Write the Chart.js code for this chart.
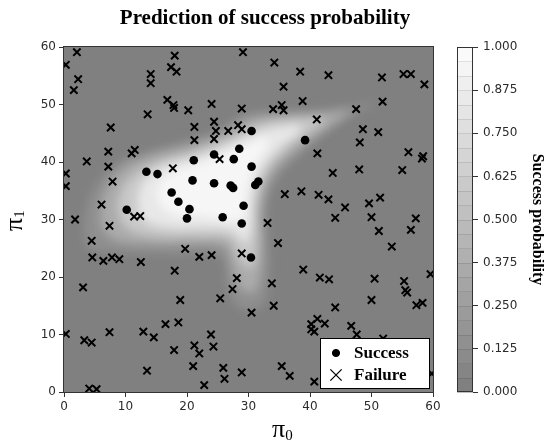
<!DOCTYPE html>
<html>
<head>
<meta charset="utf-8">
<script src="https://cdn.jsdelivr.net/npm/chart.js@4.4.0/dist/chart.umd.min.js"></script>
<style>
  html, body { margin: 0; padding: 0; background: #fff; }
  canvas { display: block; }
</style>
</head>
<body>
<canvas id="chart" width="544" height="441"></canvas>
<script>
// observed successes [pi0, pi1]
const successPoints = [
  [30.5,45.4],[28.5,42.3],[24.4,41.3],[27.6,40.5],[21.1,40.3],[30.5,39.2],
  [13.4,38.3],[15.2,37.9],[20.9,36.8],[24.4,36.3],[27.1,35.9],[27.5,35.5],
  [31.1,36.0],[31.6,36.6],[39.2,43.8],[17.5,34.7],[18.6,33.1],[20.4,31.8],
  [20.0,30.2],[10.2,31.7],[29.2,32.4],[25.8,30.4],[28.9,29.3],[30.4,23.4]
];

// observed failures, split by region of the plot
const failuresUpperLeft = [
  [2.1,59.1],[0.3,56.9],[18.0,58.5],[29.1,59.1],[2.3,54.4],[1.6,52.5],[14.1,55.3],[14.1,53.7],
  [17.4,56.5],[18.3,55.7],[16.8,50.8],[17.8,49.9],[17.9,49.4],[20.2,49.0],[24.0,50.1],[28.9,49.3],
  [13.6,48.3],[7.6,46.0],[21.2,46.1],[24.4,47.0],[21.2,43.8],[24.7,45.4],[24.4,44.0],[26.7,45.4],
  [28.3,46.4],[28.9,45.7],[7.2,41.8],[7.2,39.2],[3.7,40.1],[11.0,41.5],[11.5,42.1],[0.3,38.0],
  [0.3,35.8],[7.9,36.6],[17.7,38.9],[25.3,40.5]
];
const failuresUpperRight = [
  [34.2,57.3],[38.4,55.7],[43.0,55.1],[51.7,54.7],[55.2,55.3],[56.4,55.3],[58.6,53.5],[35.7,53.1],
  [34.0,49.2],[35.4,49.9],[35.7,49.0],[38.8,50.6],[47.5,49.2],[51.8,50.5],[41.1,47.4],[48.6,45.7],
  [51.1,45.2],[48.1,43.4],[41.2,41.5],[56.0,41.7],[58.2,40.6],[58.4,41.0],[43.7,38.1],[48.0,38.7],
  [55.0,38.6],[38.6,34.9]
];
const failuresMidLeft = [
  [6.1,32.6],[1.8,30.0],[7.4,28.9],[11.4,30.5],[12.4,30.6],[4.5,26.3],[4.6,23.4],[6.4,22.8],
  [7.8,23.4],[9.0,23.1],[12.5,22.6],[19.7,24.9],[22.0,23.5],[24.0,23.8],[28.9,24.1],[18.0,21.1],
  [3.1,18.2],[28.1,19.8],[27.4,17.9],[25.4,16.3],[18.9,16.0],[30.5,13.8],[16.5,11.8],[18.6,12.1]
];
const failuresMidRight = [
  [35.9,34.4],[41.4,34.3],[43.0,33.5],[45.7,32.1],[44.1,30.3],[49.6,32.8],[51.4,33.8],[50.0,30.4],
  [51.2,28.0],[57.2,30.2],[56.4,28.2],[53.3,25.3],[33.1,29.4],[34.8,25.9],[38.9,21.3],[41.6,19.9],
  [43.1,19.6],[33.8,18.9],[50.5,19.7],[55.3,19.3],[55.5,17.7],[55.8,17.3],[59.6,20.5],[34.1,15.0],
  [44.1,14.7],[50.0,16.0],[57.3,15.1],[58.3,15.5],[46.7,11.5]
];
const failuresLowRight = [
  [40.2,11.8],[41.2,12.7],[42.4,11.9],[40.2,10.9],[40.7,10.5],[47.6,10.0],[51.9,9.3],
  [35.4,4.5],[36.7,2.8],[40.7,1.8],[59.8,3.2]
];
const failuresLowLeft = [
  [0.3,10.1],[3.3,9.0],[4.5,8.6],[7.4,10.4],[12.9,10.5],[14.6,9.5],[17.9,7.3],[21.2,8.1],
  [22.0,6.7],[23.9,10.0],[24.3,7.9],[13.5,3.7],[21.0,4.5],[25.9,4.2],[26.1,2.3],[28.9,3.4],
  [22.8,1.2],[4.1,0.6],[5.3,0.5]
];

// probability contours
const contourLevels = [0.12, 0.35, 0.6, 0.85, 0.97];
const contour12 = [
  [51.5,50.3],[46,49.7],[40,49.1],[34,48.9],[29.5,48.4],[25,45.5],[20,43.8],[14,42],[9,40],
  [5.8,37],[3.9,33],[3.3,29],[3.9,25.2],[7,24.4],[12,24.2],[18,23.9],[23,24.3],[25.8,23],
  [26.3,19],[27.8,15.3],[30.5,14.2],[32.6,15.8],[33.4,21],[33.2,27],[33.1,32],[34.7,37],
  [38.7,41.5],[43.7,45.8],[48.5,49]
];
const contour35 = [
  [47,49],[41,48.3],[35,48],[30,47.3],[25.5,44.8],[20,42.7],[14,41],[9.5,38.8],[7,35.5],
  [6,31.5],[6.5,28],[9,26.2],[15,25.7],[21,25.8],[26,25.3],[27.3,22],[28.5,18.3],[30.8,17.3],
  [32,21],[32.2,27],[32.1,32],[33.7,37.5],[37.6,41.8],[42.5,45.8]
];
const contour60 = [
  [43,47.5],[37,47.4],[31.5,46.5],[26.5,44],[21,41.8],[15,40],[11,37.5],[9,34],[9,30.5],
  [11,28],[16,27],[22,27],[27,26.5],[28.6,23],[30.5,21.5],[31.3,26],[31.3,32],[32.8,38],
  [36.5,42.5],[40.5,45.7]
];
const contour85 = [
  [38,46.5],[32.5,45.5],[28,43.5],[22,41],[16.5,39.3],[13.2,37],[12,33.5],[13,30],[17,28.6],
  [23,28.5],[27.5,28],[29.5,26],[30.4,29],[30.5,33],[32,38.5],[35.5,43],[38.5,45.5]
];
const contour97 = [
  [33,44.5],[28.5,42.5],[23,40],[18,38.3],[15.5,36],[15.5,33],[18,30.8],[23,30.5],[27.5,29.8],
  [29.4,30.5],[29.6,34],[30.8,39],[33,42.8]
];
const contourShapes = [contour12, contour35, contour60, contour85, contour97];

// colour bar ticks
const cbTicks = [0, 0.125, 0.25, 0.375, 0.5, 0.625, 0.75, 0.875, 1];
const cbBands = 24;

const grey = v => { const g = Math.round(128 + v * 122); return `rgb(${g},${g},${g})`; };
const toXY = arr => arr.map(([x, y]) => ({x, y}));

const failurePoints = [].concat(failuresUpperLeft, failuresUpperRight, failuresMidLeft,
  failuresMidRight, failuresLowRight, failuresLowLeft);

const contourSets = contourShapes.map((pts, i) => ({
  type: 'line',
  label: 'p' + contourLevels[i],
  data: toXY(pts.concat([pts[0]])),
  fill: 'shape',
  backgroundColor: grey(contourLevels[i]),
  borderColor: 'rgba(0,0,0,0)',
  borderWidth: 1,
  pointRadius: 0,
  tension: 0.4,
  order: 20 - i,
  isContour: true,
  lastContour: i === contourShapes.length - 1
}));

const serif = 'Liberation Serif, Times New Roman, serif';

const decor = {
  id: 'decor',
  beforeDraw(chart) {
    const {ctx, chartArea: a} = chart;
    ctx.save();
    ctx.fillStyle = grey(0);
    ctx.fillRect(a.left, a.top, a.width, a.height);

    // colour bar
    const cb = chart.scales.cb;
    const x1 = cb.left - 16, x2 = cb.left;
    const y0 = cb.getPixelForValue(0), y1 = cb.getPixelForValue(1);
    const h = (y0 - y1) / cbBands;
    for (let k = 0; k < cbBands; k++) {
      ctx.fillStyle = grey(k / (cbBands - 1));
      ctx.fillRect(x1, y0 - (k + 1) * h, x2 - x1, h + 0.5);
    }
    ctx.strokeStyle = 'rgba(0,0,0,0.10)';
    ctx.lineWidth = 1;
    for (let k = 1; k < cbBands; k++) {
      const yy = Math.round(y0 - k * h) + 0.5;
      ctx.beginPath(); ctx.moveTo(x1, yy); ctx.lineTo(x2, yy); ctx.stroke();
    }
    ctx.strokeStyle = '#333';
    ctx.strokeRect(x1 + 0.5, y1 + 0.5, x2 - x1 - 1, y0 - y1 - 1);
    ctx.restore();
  },
  beforeDatasetsDraw(chart) {
    chart.ctx.filter = 'blur(5px)';
  },
  afterDatasetDraw(chart, args) {
    if (chart.data.datasets[args.index].lastContour) chart.ctx.filter = 'none';
  },
  afterDatasetsDraw(chart) {
    const {ctx, chartArea: a} = chart;
    ctx.save();
    ctx.filter = 'none';
    ctx.strokeStyle = '#333';
    ctx.lineWidth = 1;
    ctx.strokeRect(a.left - 0.5, a.top - 0.5, a.width + 1, a.height + 1);
    ctx.restore();
  },
  afterDraw(chart) {
    const {ctx, chartArea: a} = chart;
    ctx.save();
    ctx.fillStyle = '#000';

    // title
    ctx.font = 'bold 21px ' + serif;
    ctx.textAlign = 'center';
    ctx.textBaseline = 'alphabetic';
    ctx.fillText('Prediction of success probability', 265, 24);

    // axis labels
    ctx.textAlign = 'left';
    ctx.font = '26px ' + serif;
    ctx.fillText('\u03c0', 272, 437);
    const pw = ctx.measureText('\u03c0').width;
    ctx.font = '15px ' + serif;
    ctx.fillText('0', 272 + pw, 440);

    ctx.save();
    ctx.translate(22, 231);
    ctx.rotate(-Math.PI / 2);
    ctx.font = '26px ' + serif;
    ctx.fillText('\u03c0', 0, 0);
    ctx.font = '15px ' + serif;
    ctx.fillText('1', pw, 2);
    ctx.restore();

    // legend
    const bw = 110, bh = 51;
    const bx = a.right - 3 - bw, by = a.bottom - 3 - bh;
    ctx.fillStyle = '#fff';
    ctx.fillRect(bx, by, bw, bh);
    ctx.strokeStyle = '#000';
    ctx.lineWidth = 1;
    ctx.strokeRect(bx + 0.5, by + 0.5, bw - 1, bh - 1);
    const items = chart.data.datasets.filter(d => !d.isContour);
    items.forEach((d, i) => {
      const cy = by + 15 + i * 22;
      ctx.fillStyle = '#000';
      ctx.strokeStyle = '#000';
      ctx.lineWidth = d.pointStyle === 'crossRot' ? 1.3 : 1;
      Chart.helpers.drawPoint(ctx, {
        pointStyle: d.pointStyle, rotation: 0,
        radius: d.pointStyle === 'crossRot' ? 8 : 3.6, borderWidth: 1
      }, bx + 16, cy);
      ctx.font = 'bold 17px ' + serif;
      ctx.textBaseline = 'middle';
      ctx.textAlign = 'left';
      ctx.fillText(d.label, bx + 34, cy + 1);
    });
    ctx.restore();
  }
};

const tickFont = {family: 'DejaVu Sans', size: 12};
const tickColor = '#2b2b2b';

new Chart(document.getElementById('chart'), {
  type: 'scatter',
  data: {
    datasets: [
      {
        label: 'Success',
        data: toXY(successPoints),
        pointStyle: 'circle',
        pointRadius: 4.3,
        pointBackgroundColor: '#000',
        pointBorderWidth: 0,
        clip: 0,
        order: 0
      },
      {
        label: 'Failure',
        data: toXY(failurePoints),
        pointStyle: 'crossRot',
        pointRadius: 5.2,
        pointBorderColor: '#000',
        pointBorderWidth: 2,
        clip: 0,
        order: 1
      }
    ].concat(contourSets)
  },
  options: {
    responsive: false,
    animation: false,
    devicePixelRatio: 1,
    layout: {padding: {top: 47, left: 0, right: 0, bottom: 0}},
    plugins: {legend: {display: false}, tooltip: {enabled: false}, title: {display: false}},
    scales: {
      x: {
        type: 'linear', min: 0, max: 60,
        ticks: {stepSize: 10, font: tickFont, color: tickColor, padding: 3, maxRotation: 0},
        grid: {drawOnChartArea: false, tickLength: 5, color: '#333'},
        border: {display: false},
        afterFit: s => { s.height = 49; }
      },
      y: {
        type: 'linear', min: 0, max: 60,
        ticks: {stepSize: 10, font: tickFont, color: tickColor, padding: 3},
        grid: {drawOnChartArea: false, tickLength: 5, color: '#333'},
        border: {display: false},
        afterFit: s => { s.width = 64; }
      },
      gap: {
        type: 'linear', axis: 'y', position: 'right', weight: 0, min: 0, max: 1,
        ticks: {display: false},
        grid: {display: false},
        border: {display: false},
        afterFit: s => { s.width = 40; }
      },
      cb: {
        type: 'linear', axis: 'y', position: 'right', weight: 1, min: 0, max: 1,
        afterBuildTicks: s => { s.ticks = cbTicks.map(v => ({value: v})); },
        ticks: {font: tickFont, color: tickColor, padding: 5, callback: v => Number(v).toFixed(3)},
        grid: {drawOnChartArea: false, tickLength: 5, color: '#333'},
        border: {display: false},
        title: {
          display: true, text: 'Success probability', color: '#000',
          font: {family: serif, size: 16, weight: 'bold', lineHeight: 0.85},
          padding: 0
        },
        afterFit: s => { s.width = 71; }
      }
    }
  },
  plugins: [decor]
});
</script>
</body>
</html>
